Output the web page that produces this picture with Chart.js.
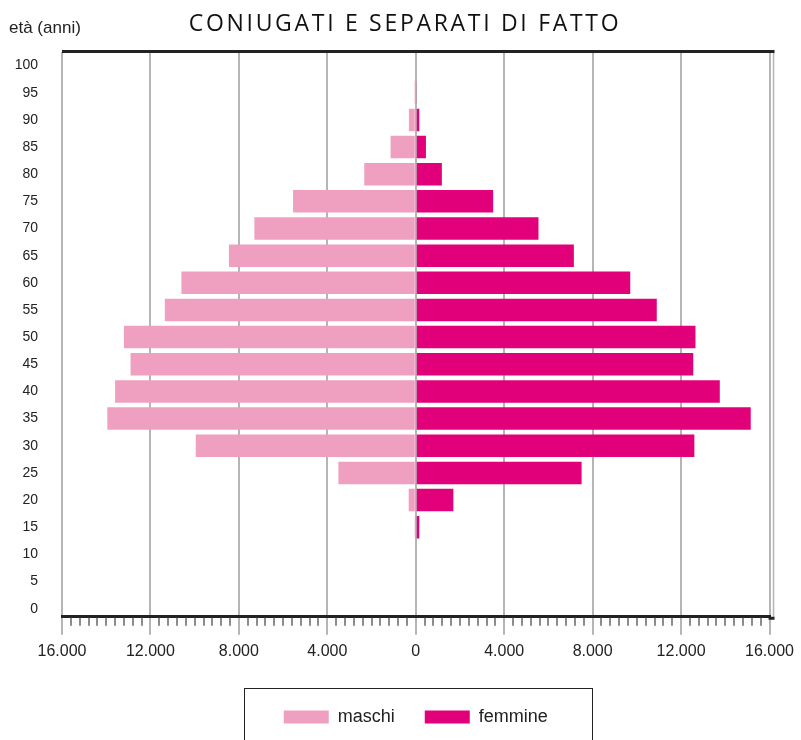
<!DOCTYPE html>
<html>
<head>
<meta charset="utf-8">
<script src="https://cdn.jsdelivr.net/npm/chart.js@4.4.1/dist/chart.umd.min.js"></script>
<style>html,body{margin:0;background:#fff}canvas{display:block}</style>
</head>
<body>
<canvas id="c" width="801" height="740"></canvas>
<script>
// Coniugati e separati di fatto — piramide per età
const titolo = 'CONIUGATI E SEPARATI DI FATTO';
const etichettaY = 'età (anni)';

const eta     = [15, 20, 25, 30, 35, 40, 45, 50, 55, 60, 65, 70, 75, 80, 85, 90, 95];
const maschi  = [20, 320, 3500, 9950, 13950, 13600, 12900, 13200, 11350, 10600, 8450, 7300, 5550, 2330, 1140, 310, 60];
const femmine = [160, 1700, 7500, 12600, 15150, 13750, 12550, 12650, 10900, 9700, 7150, 5550, 3500, 1180, 460, 160, 40];

const xTicks = [-16000, -12000, -8000, -4000, 0, 4000, 8000, 12000, 16000];
const yTicks = [0, 5, 10, 15, 20, 25, 30, 35, 40, 45, 50, 55, 60, 65, 70, 75, 80, 85, 90, 95, 100];
const passoMinore = 400;

const fmt = v => String(Math.abs(v)).replace(/\B(?=(\d{3})+(?!\d))/g, '.');

Chart.defaults.font.family = "'Liberation Sans', Arial, sans-serif";
Chart.defaults.color = '#222';

// cornice, tacche minori, riquadro legenda, testi in alto
const cornice = {
  id: 'cornice',
  afterDraw(chart) {
    const { ctx, chartArea: a, scales: { x } } = chart;
    ctx.save();

    // tacche minori sotto l'asse
    ctx.strokeStyle = '#666';
    ctx.lineWidth = 1.5;
    for (let v = xTicks[0]; v <= xTicks[xTicks.length - 1]; v += passoMinore) {
      if (xTicks.includes(v)) continue;
      const px = Math.round(x.getPixelForValue(v));
      ctx.beginPath();
      ctx.moveTo(px, a.bottom + 1);
      ctx.lineTo(px, a.bottom + 9);
      ctx.stroke();
    }

    // doppia linea a destra
    ctx.strokeStyle = 'rgba(150,150,150,0.7)';
    ctx.lineWidth = 1.5;
    ctx.beginPath();
    ctx.moveTo(a.right + 4, a.top);
    ctx.lineTo(a.right + 4, a.bottom);
    ctx.stroke();

    // filo superiore e prolungamento asse
    ctx.strokeStyle = '#222';
    ctx.lineWidth = 3;
    ctx.beginPath();
    ctx.moveTo(a.left, a.top - 0.5);
    ctx.lineTo(a.right + 5, a.top - 0.5);
    ctx.moveTo(a.right - 1, a.bottom + 1.5);
    ctx.lineTo(a.right + 5, a.bottom + 1.5);
    ctx.stroke();

    // riquadro legenda
    const hb = chart.legend.legendHitBoxes;
    if (hb && hb.length) {
      const last = hb[hb.length - 1];
      const l = Math.round(hb[0].left - 40) + 0.5;
      const r = Math.round(last.left + last.width + 44) + 0.5;
      const t = Math.round(hb[0].top - 20) + 0.5;
      ctx.strokeStyle = '#222';
      ctx.lineWidth = 1;
      ctx.strokeRect(l, t, r - l, chart.height - t + 10);
    }

    // titolo ed etichetta asse y
    ctx.fillStyle = '#111';
    ctx.textBaseline = 'alphabetic';
    ctx.textAlign = 'center';
    ctx.font = "23px 'Open Sans', sans-serif";
    ctx.letterSpacing = '2.7px';
    ctx.fillText(titolo, 405, 31);
    ctx.letterSpacing = '0px';
    ctx.textAlign = 'left';
    ctx.fillStyle = '#222';
    ctx.font = "17px 'Liberation Sans', Arial, sans-serif";
    ctx.fillText(etichettaY, 9, 33);

    ctx.restore();
  }
};

new Chart(document.getElementById('c'), {
  type: 'bar',
  data: {
    datasets: [
      {
        label: 'maschi',
        data: eta.map((a, i) => ({ x: -maschi[i], y: a })),
        backgroundColor: '#efa0c1',
        borderWidth: 0,
        categoryPercentage: 0.9,
        barPercentage: 0.92
      },
      {
        label: 'femmine',
        data: eta.map((a, i) => ({ x: femmine[i], y: a })),
        backgroundColor: '#e2007a',
        borderWidth: 0,
        categoryPercentage: 0.9,
        barPercentage: 0.92
      }
    ]
  },
  options: {
    indexAxis: 'y',
    responsive: false,
    devicePixelRatio: 1,
    animation: false,
    layout: { padding: { top: 52, left: 0, right: 28, bottom: 4 } },
    scales: {
      x: {
        type: 'linear',
        min: xTicks[0],
        max: xTicks[xTicks.length - 1],
        stacked: true,
        z: 1,
        afterBuildTicks: s => { s.ticks = xTicks.map(v => ({ value: v })); },
        afterFit: s => { s.height += 10; },
        ticks: { callback: v => fmt(v), font: { size: 16 }, color: '#222', padding: 7, maxRotation: 0, autoSkip: false },
        grid: { color: 'rgba(150,150,150,0.7)', lineWidth: 2, tickLength: 18 },
        border: { color: '#222', width: 3 }
      },
      y: {
        type: 'linear',
        min: -1.5,
        max: 102.5,
        stacked: true,
        offset: false,
        afterBuildTicks: s => { s.ticks = yTicks.map(v => ({ value: v })); },
        afterFit: s => { s.width = 62; },
        ticks: { font: { size: 14 }, color: '#222', padding: 24 },
        grid: { display: false, drawTicks: false },
        border: { display: false }
      }
    },
    plugins: {
      legend: {
        position: 'bottom',
        fullSize: false,
        labels: { boxWidth: 45, boxHeight: 13, padding: 30, font: { size: 18 }, color: '#222' }
      },
      title: { display: false },
      tooltip: { enabled: false }
    }
  },
  plugins: [cornice]
});
</script>
</body>
</html>
